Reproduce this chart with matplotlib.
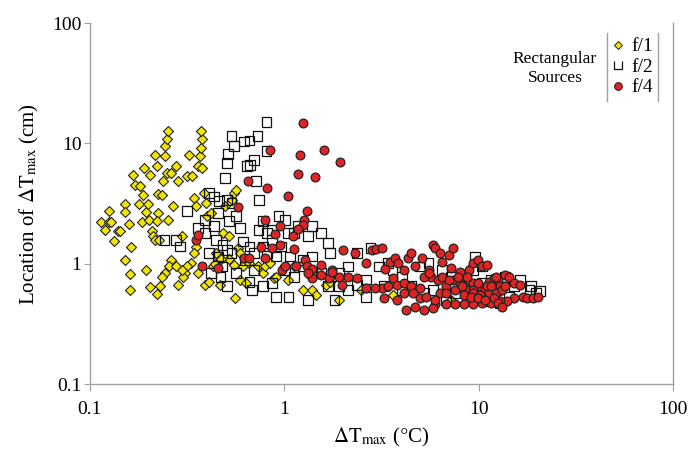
import matplotlib
matplotlib.use("Agg")
import matplotlib.pyplot as plt
from matplotlib.path import Path
from matplotlib.lines import Line2D
import numpy as np

plt.rcParams['font.family'] = ['Liberation Serif', 'DejaVu Serif']
plt.rcParams['mathtext.fontset'] = 'stix'

# f/1 data (yellow diamonds): dT_max (C), location (cm)
f1_dt = [0.114, 0.12, 0.125, 0.128, 0.125, 0.133, 0.139, 0.142, 0.152, 0.152,
         0.158, 0.167, 0.163, 0.152, 0.161, 0.161, 0.171, 0.178, 0.181, 0.185,
         0.187, 0.19, 0.194, 0.198, 0.201, 0.204, 0.208, 0.212, 0.215, 0.217,
         0.22, 0.223, 0.223, 0.22, 0.227, 0.235, 0.239, 0.242, 0.244, 0.248,
         0.252, 0.248, 0.252, 0.262, 0.266, 0.276, 0.262, 0.255, 0.244, 0.235,
         0.229, 0.22, 0.204, 0.194, 0.283, 0.298, 0.315, 0.323, 0.336, 0.341,
         0.35, 0.36, 0.369, 0.373, 0.379, 0.373, 0.379, 0.385, 0.394, 0.4,
         0.35, 0.341, 0.332, 0.315, 0.307, 0.302, 0.283, 0.298, 0.276, 0.36,
         0.389, 0.41, 0.428, 0.444, 0.469, 0.481, 0.494, 0.521, 0.535, 0.549,
         0.564, 0.579, 0.594, 0.611, 0.558, 0.594, 0.634, 0.661, 0.736, 0.776,
         0.796, 0.839, 0.885, 0.909, 1.05, 1.12, 1.25, 1.39, 1.46, 1.63,
         1.72, 1.91, 2.49, 3.6, 7.18, 0.421, 0.52, 0.55, 0.47, 0.44]
f1_loc = [2.21, 1.92, 2.21, 2.21, 2.73, 1.56, 1.89, 1.89, 3.16, 2.68,
          2.15, 5.43, 1.39, 1.08, 0.83, 0.6, 4.54, 3.16, 4.46, 2.21,
          3.75, 6.25, 2.68, 3.16, 2.32, 5.43, 1.89, 1.69, 1.58, 8.07,
          6.46, 3.83, 2.64, 2.25, 1.58, 3.75, 4.84, 7.82, 9.6, 10.9,
          12.6, 5.68, 2.32, 5.68, 3.0, 6.46, 1.08, 0.95, 0.84, 0.78,
          0.65, 0.56, 0.64, 0.88, 4.84, 1.71, 5.33, 8.07, 5.33, 3.52,
          3.0, 6.46, 7.82, 9.17, 10.8, 12.6, 6.25, 3.87, 3.2, 2.48,
          1.39, 1.23, 1.01, 0.95, 0.84, 0.78, 0.67, 0.89, 0.95, 0.84,
          0.67, 0.71, 0.95, 1.23, 0.67, 1.8, 3.0, 1.69, 3.41, 3.87,
          4.13, 1.35, 1.23, 0.95, 0.52, 0.74, 0.69, 1.01, 0.95, 0.84,
          0.95, 1.01, 0.76, 0.78, 0.74, 0.95, 0.61, 0.61, 0.55, 0.67,
          0.71, 0.5, 0.61, 0.55, 0.5, 2.64, 1.1, 0.98, 1.1, 1.0]

# f/2 data (open squares)
f2_dt = [0.809, 0.535, 0.621, 0.661, 0.728, 0.513, 0.549, 0.507, 0.494, 0.644,
         0.668, 0.698, 0.809, 0.743, 0.716, 0.41, 0.315, 0.433, 0.461, 0.535,
         0.564, 0.594, 0.521, 0.389, 0.36, 0.291, 0.276, 0.242, 0.433, 0.444,
         0.481, 0.507, 0.456, 0.481, 0.535, 0.611, 0.661, 0.736, 0.776, 0.818,
         0.862, 0.933, 1.01, 1.04, 1.12, 1.18, 1.39, 1.32, 1.54, 1.67,
         1.72, 1.39, 1.25, 1.12, 1.01, 0.909, 0.818, 0.698, 0.661, 0.679,
         0.776, 0.862, 0.909, 1.05, 1.32, 1.81, 1.91, 2.12, 2.36, 2.62,
         2.62, 2.77, 3.08, 3.42, 3.6, 4.01, 4.96, 5.51, 6.46, 7.18,
         8.42, 9.36, 9.51, 10.4, 11.6, 12.2, 13.6, 15.1, 16.3, 18.2,
         19.7, 20.7, 18.6, 8.88, 6.81, 5.81, 5.22, 4.46, 4.01, 3.24,
         2.36, 2.12, 1.91, 1.67, 1.54, 1.39, 1.25, 1.07, 0.958, 0.862,
         0.776, 0.698, 0.627, 0.564, 0.507, 0.469, 0.421, 0.41, 0.389, 0.456,
         0.507, 12.9, 11.0, 14.3, 7.57, 10.4]
f2_loc = [15.0, 11.5, 10.4, 10.6, 11.5, 8.23, 9.47, 6.88, 5.16, 6.54,
          6.67, 7.33, 8.61, 3.41, 4.84, 3.87, 2.73, 3.63, 3.3, 3.2,
          2.48, 1.98, 2.25, 2.32, 1.98, 1.39, 1.58, 1.58, 2.05, 1.58,
          1.44, 1.31, 1.15, 0.95, 1.23, 1.53, 1.39, 1.92, 2.25, 1.8,
          1.92, 2.48, 2.32, 1.8, 1.8, 2.05, 2.05, 1.69, 1.8, 1.49,
          1.23, 1.15, 0.95, 0.78, 0.89, 1.15, 1.23, 0.89, 0.71, 0.61,
          0.65, 0.69, 0.53, 0.53, 0.5, 0.5, 0.65, 0.61, 0.67, 0.53,
          0.74, 1.35, 0.95, 1.01, 0.89, 0.78, 0.95, 1.01, 0.89, 0.78,
          0.71, 0.89, 1.15, 0.95, 0.74, 0.61, 0.78, 0.65, 0.74, 0.61,
          0.57, 0.59, 0.65, 0.5, 0.5, 0.61, 0.57, 0.65, 0.61, 0.65,
          1.23, 0.95, 0.84, 0.65, 0.84, 0.84, 1.08, 1.15, 1.39, 1.58,
          1.39, 1.23, 1.08, 0.84, 0.65, 0.78, 0.84, 1.23, 1.8, 2.64,
          3.41, 0.47, 0.49, 0.53, 0.57, 0.69]

# f/4 data (red circles)
f4_dt = [1.25, 0.839, 1.2, 1.59, 1.93, 1.17, 1.43, 0.651, 0.818, 1.05,
         0.579, 1.3, 1.26, 1.24, 1.18, 1.11, 0.796, 0.944, 0.895, 0.944,
         0.755, 0.35, 0.36, 0.379, 0.456, 0.621, 0.655, 0.796, 0.862, 0.969,
         1.12, 1.28, 1.3, 1.39, 1.54, 1.7, 2.01, 1.99, 1.76, 2.3,
         2.62, 2.81, 2.96, 3.16, 3.28, 3.51, 3.7, 3.86, 4.12, 4.34,
         4.46, 4.7, 5.09, 5.51, 5.66, 5.81, 5.97, 6.29, 6.46, 6.99,
         7.37, 7.18, 7.98, 8.88, 9.36, 9.87, 10.4, 11.0, 3.6, 3.16,
         3.42, 3.8, 4.12, 4.46, 4.96, 5.22, 5.51, 6.13, 6.46, 6.81,
         7.37, 7.98, 8.42, 8.88, 9.36, 10.1, 10.7, 11.3, 11.9, 12.5,
         12.9, 13.6, 14.3, 15.1, 16.3, 16.8, 17.7, 19.1, 20.2, 15.1,
         13.9, 12.9, 11.6, 10.4, 9.36, 8.42, 7.57, 6.81, 5.97, 5.81,
         4.7, 4.23, 3.8, 3.24, 2.92, 2.62, 2.36, 2.12, 1.91, 1.76,
         1.54, 1.39, 1.32, 1.15, 1.01, 9.36, 8.65, 7.78, 6.99, 6.29,
         6.81, 8.42, 9.36, 10.1, 11.3, 12.2, 13.2, 13.6, 4.96, 5.37,
         7.57, 8.2, 4.12, 4.58, 9.87, 11.0, 12.2, 11.6, 9.12, 9.87,
         10.7, 11.9, 5.22, 5.97, 12.5, 13.2]
f4_loc = [14.8, 8.89, 7.97, 8.77, 6.97, 5.61, 5.26, 4.91, 4.24, 3.63,
          2.96, 2.73, 2.32, 2.11, 1.94, 1.71, 2.3, 2.05, 1.78, 1.44,
          1.39, 1.58, 1.74, 0.95, 0.92, 1.11, 1.11, 1.11, 1.35, 0.88,
          1.32, 1.07, 0.95, 0.9, 0.98, 0.76, 1.31, 0.67, 0.89, 1.23,
          1.01, 1.31, 1.32, 1.35, 0.9, 1.04, 1.11, 1.01, 0.89, 1.11,
          1.23, 0.95, 1.11, 0.89, 0.78, 1.44, 1.35, 1.23, 1.04, 1.19,
          1.35, 0.92, 0.86, 0.89, 1.01, 1.08, 0.95, 0.98, 0.76, 0.63,
          0.65, 0.67, 0.69, 0.65, 0.63, 0.78, 0.84, 0.74, 0.78, 0.65,
          0.74, 0.69, 0.65, 0.61, 0.69, 0.65, 0.61, 0.71, 0.76, 0.74,
          0.65, 0.81, 0.78, 0.69, 0.67, 0.53, 0.52, 0.52, 0.53, 0.52,
          0.49, 0.49, 0.47, 0.47, 0.46, 0.46, 0.46, 0.46, 0.46, 0.43,
          0.44, 0.41, 0.5, 0.52, 0.63, 0.63, 0.76, 0.78, 0.78, 0.86,
          0.81, 0.76, 0.84, 0.95, 0.95, 0.61, 0.78, 0.78, 0.74, 0.57,
          0.57, 0.55, 0.57, 0.55, 0.57, 0.57, 0.61, 0.65, 0.52, 0.53,
          0.61, 0.65, 0.57, 0.57, 0.69, 0.65, 0.78, 0.65, 0.53, 0.52,
          0.5, 0.52, 0.41, 0.5, 0.47, 0.44]

yellow = '#f2e600'
red = '#e02424'
grey = '#a0a0a0'

# open "cup" marker used by the f/2 series in the legend
cup = Path([(-1, 1), (-1, -1), (1, -1), (1, 1)],
           [Path.MOVETO, Path.LINETO, Path.LINETO, Path.LINETO])

fig = plt.figure(figsize=(6.97, 4.54), dpi=100)
ax = fig.add_axes([0.129, 0.154, 0.837, 0.795])

ax.scatter(f1_dt, f1_loc, marker='D', s=26, facecolor=yellow,
           edgecolor='#222222', linewidths=0.8, zorder=3)
ax.scatter(f2_dt, f2_loc, marker='s', s=50, facecolor='none',
           edgecolor='#111111', linewidths=0.9, zorder=4)
ax.scatter(f4_dt, f4_loc, marker='o', s=40, facecolor=red,
           edgecolor='#222222', linewidths=0.9, zorder=5)

ax.set_xscale('log')
ax.set_yscale('log')
ax.set_xlim(0.1, 100)
ax.set_ylim(0.1, 100)
ax.set_xticks([0.1, 1, 10, 100])
ax.set_xticklabels(['0.1', '1', '10', '100'])
ax.set_yticks([0.1, 1, 10, 100])
ax.set_yticklabels(['0.1', '1', '10', '100'])
ax.minorticks_off()

for side in ['left', 'bottom', 'right']:
    ax.spines[side].set_color(grey)
    ax.spines[side].set_linewidth(1.0)
ax.spines['top'].set_visible(False)
ax.tick_params(axis='y', direction='out', length=4, color=grey,
               labelsize=14, pad=2)
ax.tick_params(axis='x', direction='out', length=5, color=grey,
               labelsize=14, pad=7)

ax.set_xlabel(r'$\Delta\mathrm{T}_{\mathrm{max}}$ ($\degree$C)', fontsize=15,
              labelpad=6)
ax.set_ylabel(r'Location of $\Delta\mathrm{T}_{\mathrm{max}}$ (cm)',
              fontsize=15, labelpad=8)

handles = [
    Line2D([], [], linestyle='none', marker='D', markersize=4.5,
           markerfacecolor=yellow, markeredgecolor='#222222', markeredgewidth=0.7),
    Line2D([], [], linestyle='none', marker=cup, markersize=6,
           markerfacecolor='none', markeredgecolor='#111111', markeredgewidth=0.9),
    Line2D([], [], linestyle='none', marker='o', markersize=5.5,
           markerfacecolor=red, markeredgecolor='#222222', markeredgewidth=0.8),
]
leg = ax.legend(handles, ['f/1', 'f/2', 'f/4'], loc='upper right',
                bbox_to_anchor=(0.99, 1.0), frameon=False, fontsize=14,
                handlelength=0.6, handletextpad=0.4, labelspacing=0.15,
                borderpad=0.25)

ax.text(0.797, 0.875, 'Rectangular\nSources', transform=ax.transAxes,
        ha='center', va='center', fontsize=12.5, linespacing=1.25)

# vertical bars on both sides of the legend
fig.canvas.draw()
bb = leg.get_window_extent().transformed(fig.transFigure.inverted())
for xx in [bb.x0, bb.x1]:
    fig.add_artist(Line2D([xx, xx], [bb.y0, bb.y1], color=grey, lw=1.0,
                          transform=fig.transFigure))

fig.savefig('out.png', dpi=100)
